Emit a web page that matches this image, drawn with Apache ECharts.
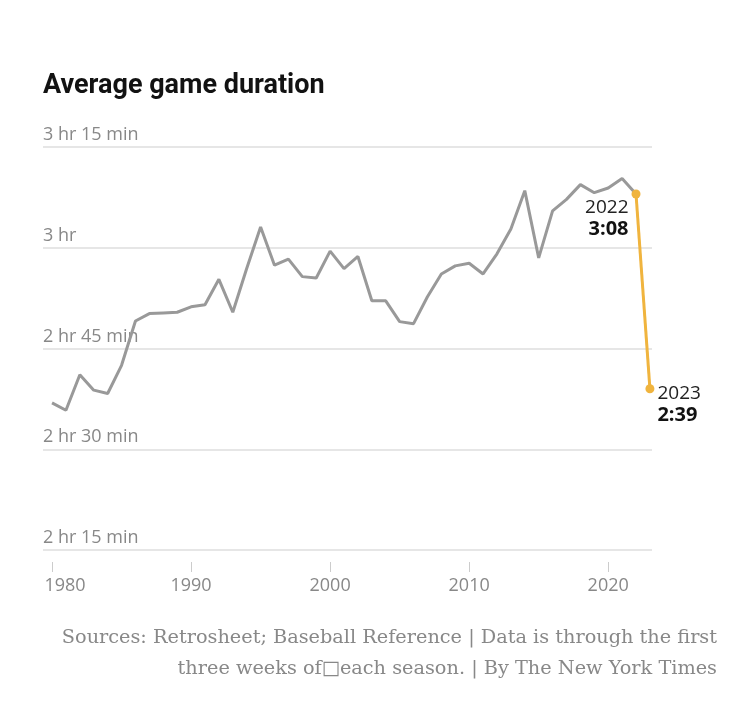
<!DOCTYPE html>
<html>
<head>
<meta charset="utf-8">
<script src="https://cdn.jsdelivr.net/npm/echarts@6/dist/echarts.min.js"></script>
<style>
  html, body { margin: 0; padding: 0; background: #fff; }
  #chart { width: 750px; height: 725px; }
</style>
</head>
<body>
<div id="chart"></div>
<script>
// average game duration, minutes
var years = [
  1980, 1981, 1982, 1983, 1984, 1985, 1986, 1987, 1988, 1989,
  1990, 1991, 1992, 1993, 1994, 1995, 1996, 1997, 1998, 1999,
  2000, 2001, 2002, 2003, 2004, 2005, 2006, 2007, 2008, 2009,
  2010, 2011, 2012, 2013, 2014, 2015, 2016, 2017, 2018, 2019,
  2020, 2021, 2022, 2023
]
var minutes = [
  156.9, 155.8, 161.1, 158.8, 158.3, 162.5, 169.1, 170.2, 170.3, 170.4,
  171.2, 171.5, 175.3, 170.4, 176.9, 183.1, 177.4, 178.3, 175.7, 175.5,
  179.5, 176.9, 178.7, 172.1, 172.1, 169.0, 168.7, 172.7, 176.1, 177.3,
  177.7, 176.1, 179.1, 182.8, 188.5, 178.5, 185.5, 187.2, 189.4, 188.2,
  188.9, 190.3, 188, 159
]
var yTicks = [135, 150, 165, 180, 195]
var yTickLabels = ['2 hr 15 min', '2 hr 30 min', '2 hr 45 min', '3 hr', '3 hr 15 min']
var xTicks = [1980, 1990, 2000, 2010, 2020]
var highlightYears = [2022, 2023]

var chart = echarts.init(document.getElementById('chart'))

function clock(m) {
  var h = Math.floor(m / 60)
  var mm = Math.round(m - h * 60)
  return h + ':' + (mm < 10 ? '0' + mm : mm)
}

var grayData = []
var orangeData = []
years.forEach(function(y, i) {
  if (y <= highlightYears[0]) grayData.push([y, minutes[i]])
})

var annoRich = {
  y: { fontFamily: 'Open Sans', fontSize: 19, lineHeight: 21, color: '#222' },
  v: { fontFamily: 'Open Sans', fontSize: 20, fontWeight: 'bold', lineHeight: 21, color: '#121212' }
}
var annoLabel = [
  { show: true, position: [-3, 8], align: 'right', verticalAlign: 'top', rich: annoRich },
  { show: true, position: [12, -1], align: 'left', verticalAlign: 'top', rich: annoRich }
]
highlightYears.forEach(function(y, k) {
  var i = years.indexOf(y)
  orangeData.push({ value: [y, minutes[i]], label: annoLabel[k] })
})

var option = {
  animation: false,
  backgroundColor: '#fff',
  title: {
    text: 'Average game duration',
    left: 43,
    top: 73,
    padding: 0,
    textStyle: { fontFamily: 'Roboto', fontSize: 27, fontWeight: 'bold', color: '#121212' }
  },
  grid: { left: 43, right: 98, top: 147, bottom: 175 },
  xAxis: {
    type: 'value',
    min: 1979.35,
    max: 2023.15,
    offset: 12,
    axisLine: { show: false },
    splitLine: { show: false },
    axisTick: {
      show: true,
      length: 10,
      customValues: xTicks,
      lineStyle: { color: '#ccc', width: 1 }
    },
    axisLabel: {
      customValues: xTicks,
      margin: 15,
      fontFamily: 'Open Sans',
      fontSize: 18,
      color: '#888',
      formatter: function(v) {
        return v === xTicks[0] ? '{first|' + v + '}' : String(v)
      },
      rich: {
        first: { fontFamily: 'Open Sans', fontSize: 18, color: '#888', padding: [0, 0, 0, 26] }
      }
    }
  },
  yAxis: {
    type: 'value',
    min: yTicks[0],
    max: yTicks[yTicks.length - 1],
    interval: 15,
    axisLine: { show: false },
    axisTick: { show: false },
    splitLine: { lineStyle: { color: '#e6e6e6', width: 2 } },
    axisLabel: {
      inside: true,
      margin: 0,
      align: 'left',
      verticalAlign: 'bottom',
      lineHeight: 24,
      fontFamily: 'Open Sans',
      fontSize: 18,
      color: '#888',
      formatter: function(v) {
        return yTickLabels[yTicks.indexOf(v)]
      }
    }
  },
  series: [
    {
      type: 'line',
      data: grayData,
      symbol: 'none',
      lineStyle: { color: '#999', width: 3 },
      z: 2
    },
    {
      type: 'line',
      data: orangeData,
      symbol: 'circle',
      symbolSize: 9,
      itemStyle: { color: '#f0b43e' },
      lineStyle: { color: '#f0b43e', width: 3 },
      label: {
        formatter: function(p) {
          return '{y|' + p.value[0] + '}\n{v|' + clock(p.value[1]) + '}'
        }
      },
      z: 3
    }
  ],
  graphic: [
    {
      type: 'text',
      x: 717,
      y: 638,
      style: {
        text: 'Sources: Retrosheet; Baseball Reference | Data is through the first',
        fontFamily: 'DejaVu Serif',
        fontSize: 19.3,
        fill: '#888',
        textAlign: 'right',
        textVerticalAlign: 'middle'
      }
    },
    {
      type: 'text',
      x: 717,
      y: 669,
      style: {
        text: 'three weeks of\u25A1each season. | By The New York Times',
        fontFamily: 'DejaVu Serif',
        fontSize: 19.3,
        fill: '#888',
        textAlign: 'right',
        textVerticalAlign: 'middle'
      }
    }
  ]
}

chart.setOption(option)
</script>
</body>
</html>
